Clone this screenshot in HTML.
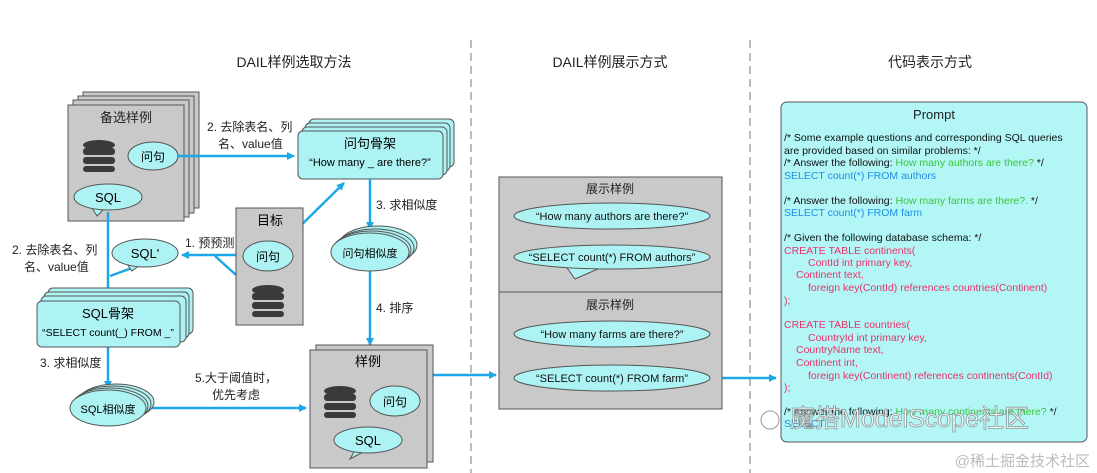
<!DOCTYPE html>
<html><head><meta charset="utf-8"><style>
html,body{margin:0;padding:0;background:#fff;}
svg{display:block;font-family:"Liberation Sans","Noto Sans CJK SC",sans-serif;}
</style></head><body>
<svg width="1097" height="473" viewBox="0 0 1097 473" xmlns="http://www.w3.org/2000/svg">
<defs>
<marker id="ah" markerWidth="8" markerHeight="8" refX="7" refY="4" orient="auto" markerUnits="userSpaceOnUse">
<path d="M0,0 L8,4 L0,8 Z" fill="#1ea7e6"/></marker>
</defs>
<!-- titles -->
<g font-size="14" fill="#222" text-anchor="middle">
<text x="294" y="67">DAIL样例选取方法</text>
<text x="610" y="67">DAIL样例展示方式</text>
<text x="930" y="67">代码表示方式</text>
</g>
<line x1="471" y1="40" x2="471" y2="473" stroke="#777" stroke-dasharray="8,5"/>
<line x1="750" y1="40" x2="750" y2="473" stroke="#777" stroke-dasharray="8,5"/>

<!-- 备选样例 stack -->
<g stroke="#555" fill="#c9c9c9">
<rect x="83" y="92" width="116" height="116"/>
<rect x="78" y="96" width="116" height="117"/>
<rect x="73" y="100" width="116" height="117"/>
<rect x="68" y="105" width="116" height="116"/>
</g>
<text x="126" y="122" font-size="13" text-anchor="middle" fill="#222">备选样例</text>
<g fill="#3a3a3a">
<ellipse cx="99" cy="145" rx="16" ry="5"/>
<rect x="83" y="148" width="32" height="7" rx="3"/>
<rect x="83" y="157" width="32" height="7" rx="3"/>
<rect x="83" y="166" width="32" height="6" rx="3"/>
</g>
<ellipse cx="153" cy="156" rx="25" ry="14" fill="#aef3f3" stroke="#555"/>
<text x="153" y="161" font-size="12" text-anchor="middle">问句</text>
<path d="M92,208 L97,216 L104,209" fill="#aef3f3" stroke="#555"/>
<ellipse cx="108" cy="197" rx="34" ry="13" fill="#aef3f3" stroke="#555"/>
<text x="108" y="202" font-size="13" text-anchor="middle">SQL</text>

<!-- 问句骨架 -->
<g stroke="#555" fill="#aef3f3">
<rect x="309" y="119" width="145" height="48" rx="5"/>
<rect x="305" y="123" width="145" height="48" rx="5"/>
<rect x="302" y="127" width="145" height="48" rx="5"/>
<rect x="298" y="131" width="145" height="48" rx="5"/>
</g>
<text x="370" y="148" font-size="13" text-anchor="middle">问句骨架</text>
<text x="370" y="166" font-size="11" text-anchor="middle">“How many _ are there?”</text>

<!-- arrows blue -->
<g stroke="#1ea7e6" stroke-width="2.5" fill="none">
<line x1="178" y1="156" x2="294" y2="156" marker-end="url(#ah)"/>
<line x1="370" y1="179" x2="370" y2="229" marker-end="url(#ah)"/>
<line x1="370" y1="271" x2="370" y2="345" marker-end="url(#ah)"/>
<line x1="284" y1="242" x2="344" y2="183" marker-end="url(#ah)"/>
<line x1="243" y1="255" x2="182" y2="255" marker-end="url(#ah)"/>
<line x1="255" y1="292" x2="215" y2="256"/>
<line x1="108" y1="212" x2="108" y2="295" marker-end="url(#ah)"/>
<line x1="132" y1="268" x2="110" y2="276"/>
<line x1="108" y1="347" x2="108" y2="388" marker-end="url(#ah)"/>
<line x1="150" y1="408" x2="306" y2="408" marker-end="url(#ah)"/>
<line x1="427" y1="375" x2="496" y2="375" marker-end="url(#ah)"/>
<line x1="722" y1="378" x2="776" y2="378" marker-end="url(#ah)"/>
</g>

<!-- labels -->
<g font-size="12" fill="#222">
<text x="207" y="131">2. 去除表名、列</text>
<text x="218" y="148">名、value值</text>
<text x="376" y="209">3. 求相似度</text>
<text x="376" y="312">4. 排序</text>
<text x="185" y="247">1. 预预测</text>
<text x="12" y="254">2. 去除表名、列</text>
<text x="24" y="271">名、value值</text>
<text x="40" y="367">3. 求相似度</text>
<text x="195" y="382">5.大于阈值时，</text>
<text x="212" y="399">优先考虑</text>
</g>

<!-- 问句相似度 -->
<g stroke="#555" fill="#aef3f3">
<ellipse cx="378" cy="245" rx="39" ry="19"/>
<ellipse cx="375" cy="248" rx="39" ry="19"/>
<ellipse cx="372" cy="250" rx="39" ry="19"/>
<ellipse cx="370" cy="252" rx="39" ry="19"/>
</g>
<text x="370" y="257" font-size="11" text-anchor="middle">问句相似度</text>

<!-- 目标 -->
<rect x="236" y="208" width="67" height="117" fill="#c9c9c9" stroke="#555"/>
<text x="270" y="225" font-size="13" text-anchor="middle">目标</text>
<ellipse cx="268" cy="256" rx="25" ry="15" fill="#aef3f3" stroke="#555"/>
<text x="268" y="261" font-size="12" text-anchor="middle">问句</text>
<g fill="#3a3a3a">
<ellipse cx="268" cy="290" rx="16" ry="5"/>
<rect x="252" y="293" width="32" height="7" rx="3"/>
<rect x="252" y="302" width="32" height="7" rx="3"/>
<rect x="252" y="311" width="32" height="6" rx="3"/>
</g>

<!-- SQL' -->
<path d="M127,264 L132,271 L140,265" fill="#aef3f3" stroke="#555"/>
<ellipse cx="145" cy="253" rx="33" ry="14" fill="#aef3f3" stroke="#555"/>
<text x="145" y="258" font-size="13" text-anchor="middle">SQL'</text>

<!-- SQL骨架 -->
<g stroke="#555" fill="#aef3f3">
<rect x="48" y="288" width="145" height="46" rx="5"/>
<rect x="44" y="292" width="145" height="46" rx="5"/>
<rect x="41" y="296" width="145" height="46" rx="5"/>
<rect x="37" y="301" width="143" height="46" rx="5"/>
</g>
<text x="108" y="318" font-size="13" text-anchor="middle">SQL骨架</text>
<text x="108" y="336" font-size="10.5" text-anchor="middle">“SELECT count(_) FROM _”</text>

<!-- SQL相似度 -->
<g stroke="#555" fill="#aef3f3">
<ellipse cx="116" cy="402" rx="38" ry="18"/>
<ellipse cx="113" cy="404" rx="38" ry="18"/>
<ellipse cx="110" cy="406" rx="38" ry="18"/>
<ellipse cx="108" cy="408" rx="38" ry="18"/>
</g>
<text x="108" y="413" font-size="11" text-anchor="middle">SQL相似度</text>

<!-- 样例 -->
<g stroke="#555" fill="#c9c9c9">
<rect x="316" y="345" width="117" height="117"/>
<rect x="310" y="350" width="117" height="118"/>
</g>
<text x="368" y="366" font-size="13" text-anchor="middle">样例</text>
<g fill="#3a3a3a">
<ellipse cx="340" cy="391" rx="16" ry="5"/>
<rect x="324" y="394" width="32" height="7" rx="3"/>
<rect x="324" y="403" width="32" height="7" rx="3"/>
<rect x="324" y="412" width="32" height="6" rx="3"/>
</g>
<ellipse cx="395" cy="401" rx="25" ry="15" fill="#aef3f3" stroke="#555"/>
<text x="395" y="406" font-size="12" text-anchor="middle">问句</text>
<path d="M355,450 L350,459 L365,451" fill="#aef3f3" stroke="#555"/>
<ellipse cx="368" cy="440" rx="34" ry="13" fill="#aef3f3" stroke="#555"/>
<text x="368" y="445" font-size="13" text-anchor="middle">SQL</text>

<!-- middle box -->
<rect x="499" y="177" width="223" height="232" fill="#c9c9c9" stroke="#555"/>
<line x1="499" y1="292" x2="722" y2="292" stroke="#555"/>
<g font-size="12" text-anchor="middle" fill="#222">
<text x="610" y="193">展示样例</text>
<text x="610" y="309">展示样例</text>
</g>
<g fill="#aef3f3" stroke="#555">
<ellipse cx="612" cy="216" rx="98" ry="13"/>
<path d="M565,265 L575,279 L600,268" />
<ellipse cx="612" cy="257" rx="98" ry="12"/>
<ellipse cx="612" cy="334" rx="98" ry="13"/>
<ellipse cx="612" cy="378" rx="98" ry="13"/>
</g>
<g font-size="11" text-anchor="middle" fill="#111">
<text x="612" y="220">“How many authors are there?”</text>
<text x="612" y="261">“SELECT count(*) FROM authors”</text>
<text x="612" y="338">“How many farms are there?”</text>
<text x="612" y="382">“SELECT count(*) FROM farm”</text>
</g>

<!-- Prompt box -->
<rect x="781" y="102" width="306" height="340" rx="6" fill="#b2f6f6" stroke="#555"/>
<text x="934" y="119" font-size="13" text-anchor="middle" fill="#222">Prompt</text>
<g font-size="10.5" fill="#111">
<text x="784" y="141">/* Some example questions and corresponding SQL queries</text>
<text x="784" y="154">are provided based on similar problems: */</text>
<text x="784" y="166">/* Answer the following: <tspan fill="#3cc63c">How many authors are there?</tspan> */</text>
<text x="784" y="179" fill="#1f8fe8">SELECT count(*) FROM authors</text>
<text x="784" y="204">/* Answer the following: <tspan fill="#3cc63c">How many farms are there?.</tspan> */</text>
<text x="784" y="216" fill="#1f8fe8">SELECT count(*) FROM farm</text>
<text x="784" y="241">/* Given the following database schema: */</text>
<g fill="#e8336a">
<text x="784" y="254">CREATE TABLE continents(</text>
<text x="808" y="266">ContId int primary key,</text>
<text x="796" y="278">Continent text,</text>
<text x="808" y="291">foreign key(ContId) references countries(Continent)</text>
<text x="784" y="304">);</text>
<text x="784" y="328">CREATE TABLE countries(</text>
<text x="808" y="341">CountryId int primary key,</text>
<text x="796" y="353">CountryName text,</text>
<text x="796" y="366">Continent int,</text>
<text x="808" y="379">foreign key(Continent) references continents(ContId)</text>
<text x="784" y="391">);</text>
</g>
<text x="784" y="415">/* Answer the following: <tspan fill="#3cc63c">How many continents are there?</tspan> */</text>
<text x="784" y="427" fill="#1f8fe8">SELECT</text>
</g>
<!-- watermarks -->
<text x="790" y="427" font-size="25" fill="#fff" stroke="#888" stroke-width="0.8" opacity="0.85">魔搭ModelScope社区</text>
<circle cx="770" cy="420" r="9" fill="#fff" stroke="#999"/>
<text x="1090" y="466" font-size="15" fill="#bbb" text-anchor="end">@稀土掘金技术社区</text>
</svg>
</body></html>
